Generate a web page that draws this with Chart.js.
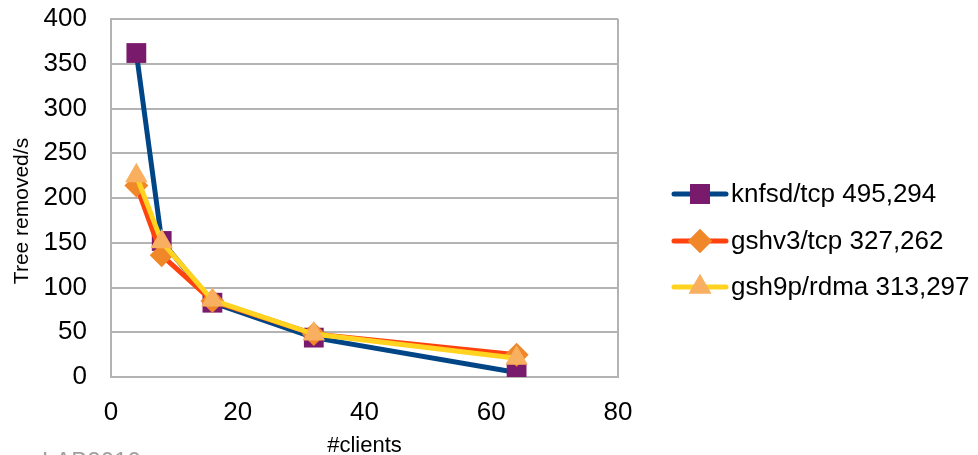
<!DOCTYPE html>
<html>
<head>
<meta charset="utf-8">
<script src="https://cdn.jsdelivr.net/npm/chart.js@4/dist/chart.umd.min.js"></script>
<style>
  html, body { margin: 0; padding: 0; background: #fff; overflow: hidden; }
  #wrap { position: relative; width: 978px; height: 455px; }
  #foot {
    position: absolute; left: 42px; top: 447px;
    font: 24px "Liberation Sans", Arial, sans-serif; color: #a0a0a0;
  }
</style>
</head>
<body>
<div id="wrap">
  <canvas id="chart" width="978" height="455"></canvas>
  <div id="foot">LAB2010</div>
</div>
<script>
  const clients = [4, 8, 16, 32, 64];
  const knfsdTcp = [362, 152, 83, 44, 5];
  const gshv3Tcp = [214, 136, 85, 48, 25];
  const gsh9pRdma = [225, 151, 86, 48, 21];
  const seriesNames = ["knfsd/tcp 495,294", "gshv3/tcp 327,262", "gsh9p/rdma 313,297"];
  const xTicks = [0, 20, 40, 60, 80];
  const yTicks = [0, 50, 100, 150, 200, 250, 300, 350, 400];
  const yTitle = "Tree removed/s";

  const FONT = "'Liberation Sans', Arial, sans-serif";
  const GRID = "#b3b3b3";

  const pts = (vals) => vals.map((v, i) => ({ x: clients[i], y: v }));

  const styles = [
    { line: "#004586", marker: "#7a1a6c", shape: "rect", r: 14 },
    { line: "#ff420e", marker: "#f0882a", shape: "rectRot", r: 12 },
    { line: "#ffd320", marker: "#f8b060", shape: "triangle", r: 13 },
  ];

  const datasets = [knfsdTcp, gshv3Tcp, gsh9pRdma].map((vals, i) => ({
    label: seriesNames[i],
    data: pts(vals),
    borderColor: styles[i].line,
    borderWidth: 5,
    pointStyle: styles[i].shape,
    pointRadius: styles[i].r,
    pointBackgroundColor: styles[i].marker,
    pointBorderColor: styles[i].marker,
    pointBorderWidth: 0,
    tension: 0,
    order: 3 - i,
  }));

  // legend: line segment with marker in the middle, like the office chart
  const lineLegend = {
    id: "lineLegend",
    afterDraw(chart) {
      const ctx = chart.ctx;
      const rows = [194, 241, 287];
      ctx.save();
      chart.data.datasets.forEach((ds, i) => {
        const y = rows[i];
        ctx.strokeStyle = ds.borderColor;
        ctx.lineWidth = 5;
        ctx.lineCap = "round";
        ctx.beginPath();
        ctx.moveTo(674, y);
        ctx.lineTo(726, y);
        ctx.stroke();
        ctx.fillStyle = ds.pointBackgroundColor;
        Chart.helpers.drawPoint(ctx, { pointStyle: ds.pointStyle, radius: ds.pointRadius, rotation: 0, borderWidth: 0 }, 700, y);
        ctx.fill();
        ctx.fillStyle = "#000";
        ctx.font = "26px " + FONT;
        ctx.textBaseline = "middle";
        ctx.textAlign = "left";
        ctx.fillText(ds.label, 731, y + 1);
      });
      // y axis title sits a bit below the plot's middle in the original
      ctx.translate(22, 211);
      ctx.rotate(-Math.PI / 2);
      ctx.font = "21px " + FONT;
      ctx.textAlign = "center";
      ctx.fillText(yTitle, 0, 0);
      ctx.restore();
    },
  };

  new Chart(document.getElementById("chart").getContext("2d"), {
    type: "line",
    data: { datasets },
    plugins: [lineLegend],
    options: {
      responsive: false,
      animation: false,
      layout: { padding: { top: 19, right: 360, left: 0, bottom: 0 } },
      plugins: { legend: { display: false }, tooltip: { enabled: false } },
      scales: {
        x: {
          type: "linear",
          min: 0,
          max: 80,
          afterBuildTicks: (s) => { s.ticks = xTicks.map((v) => ({ value: v })); },
          afterFit: (s) => { s.height = 78; },
          grid: {
            drawTicks: false,
            lineWidth: 2,
            color: (c) => (c.tick && c.tick.value === 80 ? GRID : "rgba(0,0,0,0)"),
          },
          border: { display: true, color: GRID, width: 2 },
          ticks: { padding: 20, color: "#000", font: { family: FONT, size: 26 } },
          title: {
            display: true,
            text: "#clients",
            color: "#000",
            font: { family: FONT, size: 22 },
            padding: { top: 0, bottom: -4 },
          },
        },
        y: {
          min: 0,
          max: 400,
          afterBuildTicks: (s) => { s.ticks = yTicks.map((v) => ({ value: v })); },
          afterFit: (s) => { s.width = 111; s.paddingTop = 0; s.paddingBottom = 0; },
          grid: { drawTicks: false, lineWidth: 2, color: GRID },
          border: { display: true, color: GRID, width: 2 },
          ticks: { padding: 24, color: "#000", font: { family: FONT, size: 26 } },
        },
      },
    },
  });
</script>
</body>
</html>
